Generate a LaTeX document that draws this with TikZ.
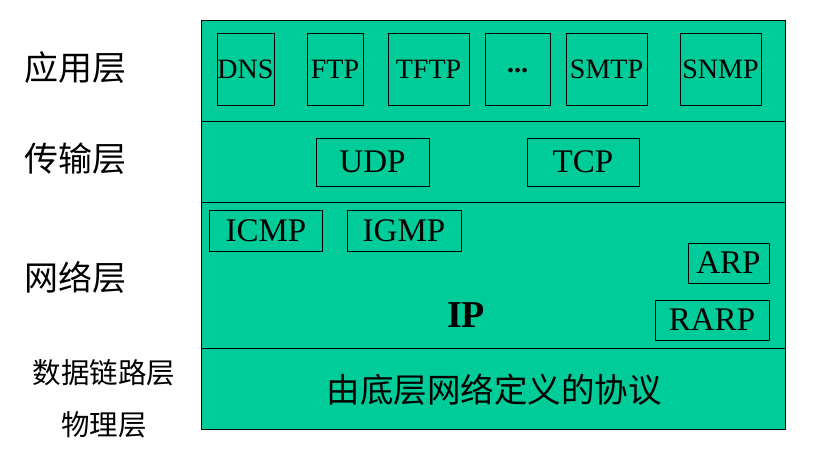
\documentclass[tikz,border=0pt]{standalone}
\usepackage{fontspec}
\setmainfont{Liberation Serif}
\newfontfamily\cjk{Noto Sans CJK SC}
\definecolor{layergreen}{RGB}{0,204,153}
\begin{document}
\begin{tikzpicture}[x=1pt,y=-1pt,
  layer/.style={draw=black,fill=layergreen,line width=1pt},
  proto/.style={draw=black,fill=layergreen,line width=1pt,inner sep=0pt,
    text depth=0pt,align=center},
  appbox/.style={proto,font=\fontsize{28}{28}\selectfont,text height=18.5pt,minimum height=72pt},
  netbox/.style={proto,font=\fontsize{33}{33}\selectfont,text height=21.8pt},
  lname/.style={anchor=west,inner sep=0pt,font=\cjk\fontsize{34}{34}\selectfont},
  lnamesmall/.style={inner sep=0pt,font=\cjk\fontsize{28.5}{28.5}\selectfont}
]
\useasboundingbox (0,0) rectangle (814,464);
% layers
\draw[layer] (201,20) rectangle (785,121);
\draw[layer] (201,121) rectangle (785,202);
\draw[layer] (201,202) rectangle (785,348);
\draw[layer] (201,348) rectangle (785,429);
% application protocols
\node[appbox,minimum width=57pt] (dns) at (245.5,69) {DNS};
\node[appbox,minimum width=56pt] (ftp) at (335,69) {FTP};
\node[appbox,minimum width=81pt] (tftp) at (428.5,69) {TFTP};
\node[appbox,minimum width=65pt] (dots) at (517.5,69) {\raisebox{6pt}{\textbf{...}}};
\node[appbox,minimum width=81pt] (smtp) at (606.5,69) {SMTP};
\node[appbox,minimum width=81pt] (snmp) at (720.5,69) {SNMP};
% transport
\node[netbox,minimum width=113pt,minimum height=48pt] (udp) at (372.5,162) {UDP};
\node[netbox,minimum width=112pt,minimum height=48pt] (tcp) at (583,162) {TCP};
% network
\node[netbox,minimum width=113.5pt,minimum height=41pt] (icmp) at (266,230.5) {ICMP};
\node[netbox,minimum width=114pt,minimum height=41pt] (igmp) at (404,230.5) {IGMP};
\node[netbox,minimum width=81pt,minimum height=40pt] (arp) at (728.5,263) {ARP};
\node[netbox,minimum width=114pt,minimum height=40pt] (rarp) at (712,320) {RARP};
\node[inner sep=0pt,text height=25pt,text depth=0pt,font=\fontsize{38}{38}\selectfont\bfseries] (ip) at (466,315) {IP};
% bottom
\node[inner sep=0pt,font=\cjk\fontsize{33.5}{33.5}\selectfont] (lower) at (494,390) {由底层网络定义的协议};
% layer names
\node[lname] (app) at (24,68) {应用层};
\node[lname] (trans) at (24,159) {传输层};
\node[lname] (net) at (24,278) {网络层};
\node[lnamesmall] (dl) at (104,373) {数据链路层};
\node[lnamesmall] (phy) at (104,425) {物理层};
\end{tikzpicture}
\end{document}
